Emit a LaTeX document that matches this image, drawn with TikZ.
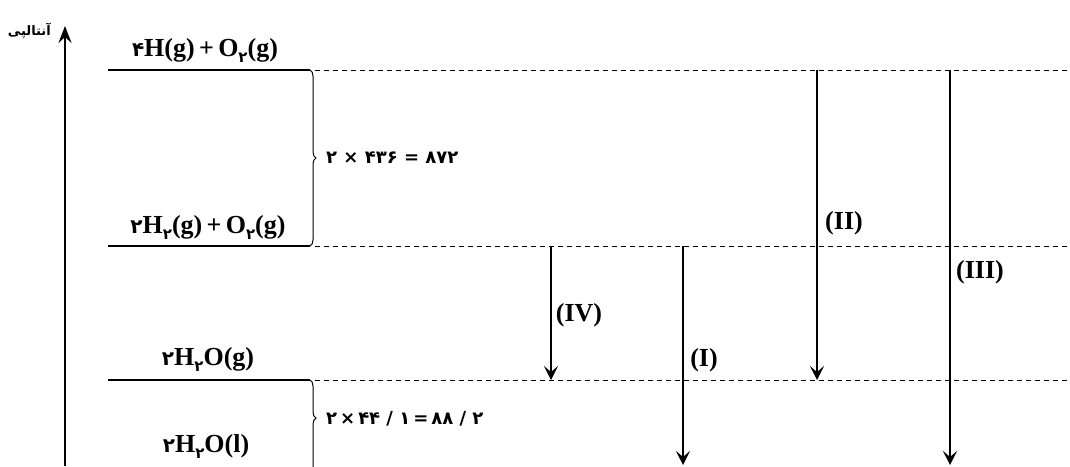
\documentclass[tikz,border=0pt]{standalone}
\usepackage{fontspec}
\setmainfont{Liberation Serif}
\newfontfamily\dig{DejaVu Sans}
\newfontfamily\arabicfont[Script=Arabic]{DejaVu Sans}
\TeXXeTstate=1
\usetikzlibrary{arrows.meta,decorations.pathreplacing}
\newcommand\fsub[1]{\raisebox{-6pt}{\fontsize{15}{15}\selectfont\dig\bfseries #1}}
\newcommand\fco[1]{{\fontsize{20}{20}\selectfont\dig\bfseries #1}}
\begin{document}
\begin{tikzpicture}[x=1pt,y=-1pt,
  level/.style={line width=2.2pt},
  guide/.style={line width=0.8pt, dash pattern=on 5pt off 4pt},
  down/.style={line width=1.4pt,-{Stealth[length=14pt,width=14pt,inset=6pt]}},
  lab/.style={font=\fontsize{26}{26}\selectfont\bfseries, inner sep=0pt},
  eq/.style={font=\fontsize{18}{18}\selectfont\dig\bfseries, inner sep=0pt, anchor=west},
  br/.style={line width=1pt, decorate, decoration={brace, amplitude=6pt}}
]
\useasboundingbox (0,0) rectangle (1070,466);
\clip (0,0) rectangle (1070,466);
% level coordinates
\coordinate (L1a) at (108,70);  \coordinate (L1b) at (310,70);  \coordinate (D1) at (1070,70);
\coordinate (L2a) at (108,246); \coordinate (L2b) at (310,246); \coordinate (D2) at (1070,246);
\coordinate (L3a) at (108,380); \coordinate (L3b) at (310,380); \coordinate (D3) at (1070,380);
\coordinate (L4b) at (310,500);
% axis
\coordinate (ax0) at (65,466); \coordinate (ax1) at (65,26);
\draw[line width=1.4pt,-{Stealth[length=17pt,width=13pt,inset=6pt]}] (ax0) -- (ax1);
\node[font=\fontsize{13}{13}\selectfont\arabicfont\bfseries, anchor=east, inner sep=0pt] (ent) at (51,31) {\beginR آنتالپی\endR};
% levels
\draw[level] (L1a) -- (L1b);
\draw[level] (L2a) -- (L2b);
\draw[level] (L3a) -- (L3b);
% guides
\draw[guide] ([xshift=5pt]L1b) -- (D1);
\draw[guide] ([xshift=5pt]L2b) -- (D2);
\draw[guide] ([xshift=5pt]L3b) -- (D3);
% braces
\draw[br] (L1b) -- (L2b);
\draw[br, decoration={aspect=0.317}] (L3b) -- (L4b);
% level labels
\node[lab, anchor=base] (t1) at (205,56) {\fco{۴}H(g)\,+\,O\fsub{۲}(g)};
\node[lab, anchor=base] (t2) at (208,233) {\fco{۲}H\fsub{۲}(g)\,+\,O\fsub{۲}(g)};
\node[lab, anchor=base] (t3) at (208,365) {\fco{۲}H\fsub{۲}O(g)};
\node[lab, anchor=base] (t4) at (206,452) {\fco{۲}H\fsub{۲}O(l)};
% equations (digits kept in the left-to-right order in which they are printed)
\node[eq] (e1) at (326,158) {۲ × ۴۳۶ = ۸۷۲};
\node[eq] (e2) at (326,419) {۲\,×\,۴۴ / ۱\,=\,۸۸ / ۲};
% arrows
\coordinate (a4s) at (551,246); \coordinate (a4e) at (551,380);
\coordinate (a1s) at (683,246); \coordinate (a1e) at (683,465);
\coordinate (a2s) at (817,70);  \coordinate (a2e) at (817,380);
\coordinate (a3s) at (950,70);  \coordinate (a3e) at (950,465);
\draw[down] (a4s) -- (a4e);
\draw[down] (a1s) -- (a1e);
\draw[down] (a2s) -- (a2e);
\draw[down] (a3s) -- (a3e);
\node[lab] (IV) at (579,315) {(IV)};
\node[lab] (I) at (704,360) {(I)};
\node[lab] (II) at (844,223) {(II)};
\node[lab] (III) at (980,272) {(III)};
\end{tikzpicture}
\end{document}
